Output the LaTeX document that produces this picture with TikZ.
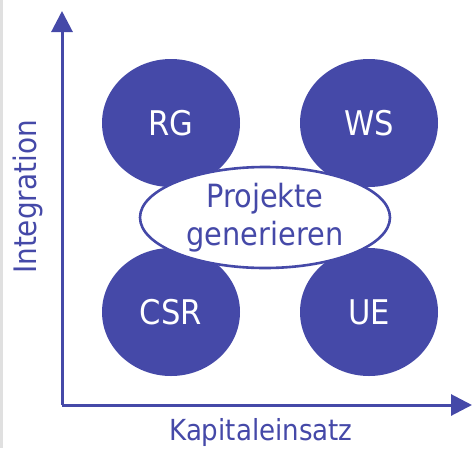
\documentclass[tikz,border=0pt]{standalone}
\usepackage{fontspec}
\setmainfont{DejaVu Sans Condensed}
\usetikzlibrary{shapes.geometric,arrows.meta}
\definecolor{ink}{RGB}{69,73,168}
\begin{document}
\begin{tikzpicture}[x=1pt,y=-1pt,
  blob/.style={ellipse,fill=ink,draw=none,minimum width=138pt,minimum height=128pt,inner sep=0pt,text=white,font=\fontsize{34}{38}\selectfont},
  hub/.style={ellipse,fill=white,draw=ink,line width=2.6pt,minimum width=250pt,minimum height=101pt,inner sep=0pt,text=ink,align=center,font=\fontsize{32}{38}\selectfont},
  axis/.style={draw=ink,line width=3pt,-{Triangle[length=21pt,width=21pt]}},
  axlabel/.style={text=ink,inner sep=0pt}]
\useasboundingbox (0,0) rectangle (472,448);
\fill[black!12] (0,0) rectangle (2.5,448);
\coordinate (o) at (62,405);
\coordinate (ytop) at (62,11);
\coordinate (xend) at (472,405);
\draw[axis] (o) -- (ytop);
\draw[axis] (o) -- (xend);
\node[blob] (rg) at (171,123) {RG};
\node[blob] (ws) at (369,123) {WS};
\node[blob] (csr) at (171,312) {CSR};
\node[blob] (ue) at (369,312) {UE};
\node[hub] (pg) at (265,217.5) {Projekte\\generieren};
\node[axlabel,rotate=90,font=\fontsize{31}{34}\selectfont] (yl) at (28,197) {Integration};
\node[axlabel,font=\fontsize{29}{32}\selectfont] (xl) at (261,432) {Kapitaleinsatz};
\end{tikzpicture}
\end{document}
